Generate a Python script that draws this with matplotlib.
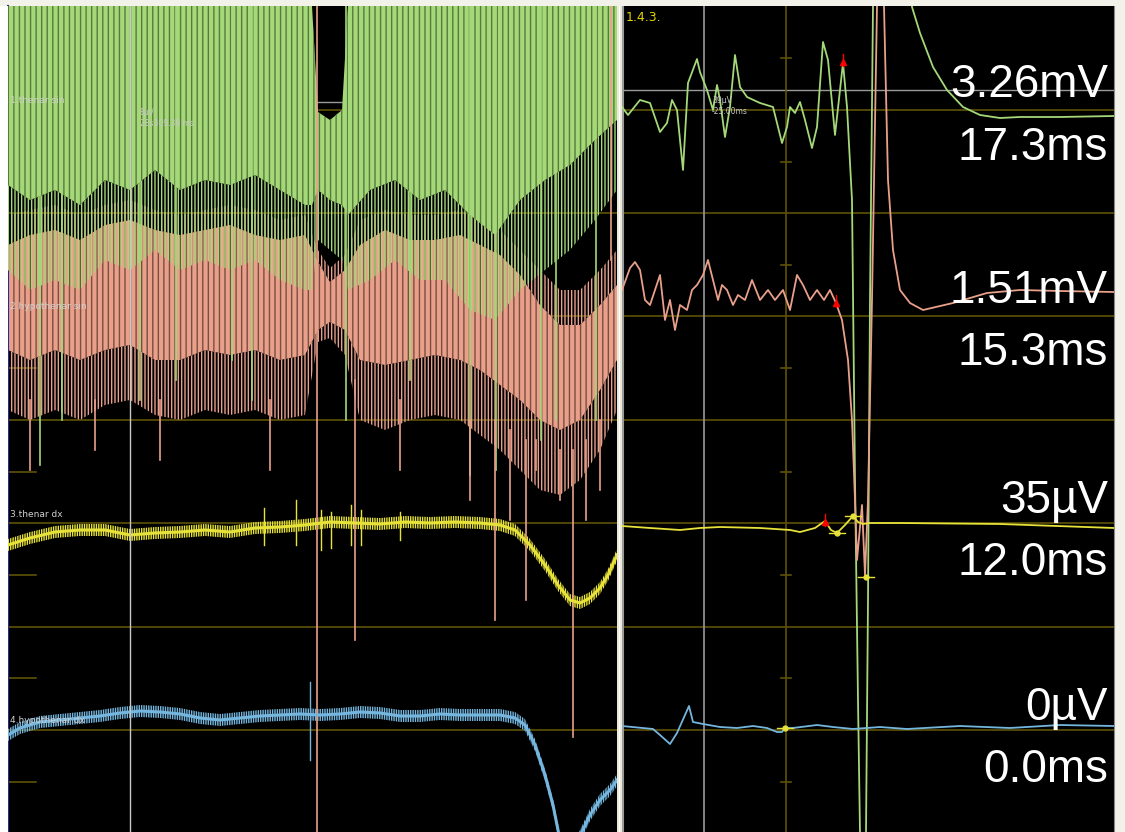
import matplotlib
matplotlib.use('Agg')
import matplotlib.pyplot as plt
from matplotlib.patches import Rectangle

W, H = 1125, 832

# trace colours
C_GREEN = '#a4d878'
C_GREEN_DK = '#587a3c'
C_SALMON = '#e9a08a'
C_SALMON_DK = '#7a4e40'
C_YELLOW = '#e6e23a'
C_BLUE = '#74b6de'
C_GRID = '#5e5208'
C_CURSOR = '#9a9a9a'

plt.rcParams['hatch.linewidth'] = 1.0

# screen rows of the scope grid (px from top)
grid_rows = [110, 213, 316, 420, 523, 627, 730]
tick_rows = [58, 162, 265, 368, 472, 575, 678, 782]

# ---- left panel: raw sweep, envelopes of each channel ----
g_x = [8, 30, 55, 80, 105, 130, 155, 180, 205, 230, 255, 280, 305, 312, 318, 330, 342, 348,
       370, 395, 420, 445, 470, 495, 520, 545, 570, 595, 617]
g_top = [6, 6, 6, 6, 6, 6, 6, 6, 6, 6, 6, 6, 6, 6, 112, 120, 110, 6,
         6, 6, 6, 6, 6, 6, 6, 6, 6, 6, 6]
g_core = [185, 200, 190, 205, 180, 190, 170, 190, 180, 185, 175, 190, 205, 205, 190, 200, 205, 215,
          190, 180, 200, 190, 215, 235, 200, 180, 165, 140, 120]
g_outer = [270, 290, 280, 290, 260, 270, 250, 270, 260, 270, 260, 280, 290, 290, 240, 250, 260, 290,
           280, 260, 280, 280, 310, 320, 290, 270, 250, 220, 190]
g_spikes = [(40, 6, 465), (62, 6, 420), (140, 6, 400), (176, 6, 380), (232, 6, 360), (252, 6, 400),
            (346, 6, 420), (410, 6, 380), (470, 6, 475), (496, 6, 470), (541, 6, 440), (556, 6, 420),
            (596, 6, 420)]

s_x = [8, 30, 55, 80, 105, 130, 155, 180, 205, 230, 255, 280, 305, 318, 330, 345, 360, 385,
       410, 435, 460, 480, 500, 520, 540, 560, 580, 600, 617]
s_up = [245, 235, 230, 240, 225, 220, 230, 235, 230, 225, 235, 240, 235, 262, 282, 270, 245, 230,
        240, 240, 235, 245, 255, 275, 305, 325, 325, 305, 285]
s_lo = [350, 360, 350, 360, 350, 345, 360, 360, 350, 355, 350, 360, 355, 330, 322, 330, 360, 365,
        360, 355, 360, 370, 385, 400, 420, 430, 420, 390, 360]
s_up_out = [215, 210, 205, 215, 205, 200, 210, 215, 210, 205, 210, 220, 215, 250, 268, 255, 220, 210,
            215, 215, 210, 220, 230, 250, 270, 290, 290, 270, 250]
s_lo_out = [410, 420, 410, 420, 405, 400, 415, 420, 410, 415, 410, 420, 415, 342, 338, 355, 420, 430,
            420, 415, 420, 435, 450, 470, 490, 495, 480, 450, 410]
s_spikes = [(30, 400, 470), (95, 400, 450), (160, 400, 460), (270, 400, 470), (317, 6, 832),
            (355, 380, 640), (400, 400, 470), (470, 420, 500), (495, 420, 620), (510, 430, 520),
            (526, 440, 600), (536, 440, 470), (560, 450, 500), (573, 450, 737), (586, 440, 520),
            (600, 420, 490), (611, 6, 260)]

y_x = [8, 30, 55, 80, 105, 130, 155, 180, 205, 230, 255, 280, 305, 330, 355, 380, 405, 430,
       455, 480, 500, 515, 530, 545, 558, 570, 580, 590, 600, 608, 617]
y_mid = [545, 538, 532, 530, 530, 535, 533, 532, 530, 532, 528, 527, 525, 522, 523, 524, 522, 523,
         522, 523, 525, 530, 545, 565, 585, 600, 603, 598, 588, 575, 555]
y_spikes = [(264, 508, 545), (296, 500, 545), (321, 510, 550), (331, 512, 548), (351, 505, 545),
            (361, 510, 545), (400, 512, 540)]

b_x = [8, 20, 40, 60, 80, 100, 120, 140, 160, 180, 200, 220, 240, 260, 280, 300, 320, 340,
       360, 380, 400, 420, 440, 460, 480, 500, 515, 525, 535, 545, 553, 560]
b_mid = [735, 728, 722, 720, 718, 716, 713, 711, 712, 714, 718, 720, 718, 716, 715, 714, 715, 714,
         712, 713, 716, 716, 714, 715, 715, 715, 718, 725, 745, 775, 805, 840]
b2_x = [578, 590, 600, 610, 617]
b2_mid = [840, 815, 800, 790, 780]
b_spikes = [(310, 682, 760)]

# ---- right panel: averaged responses ----
rg_x = [622, 628, 640, 650, 660, 667, 672, 677, 683, 688, 697, 700, 707, 713, 717, 720, 725, 730,
        735, 740, 747, 760, 773, 782, 787, 790, 795, 800, 805, 812, 817, 823, 828, 835, 843, 847,
        852, 855, 858, 861, 863, 866, 868, 870, 873, 880, 905, 912, 920, 933, 947, 963, 980, 1000,
        1020, 1060, 1114]
rg_y = [107, 115, 100, 103, 132, 123, 100, 110, 170, 83, 59, 72, 90, 110, 85, 100, 137, 107,
        55, 87, 97, 103, 107, 143, 127, 107, 113, 102, 120, 148, 127, 42, 60, 135, 63, 107,
        200, 480, 700, 900, 900, 832, 600, 300, 6, -80, -80, 7, 33, 67, 90, 107, 115, 118,
        117, 117, 116]

rs_x = [622, 630, 635, 640, 645, 650, 655, 660, 665, 670, 675, 680, 687, 692, 697, 703, 708, 713,
        718, 722, 727, 733, 738, 745, 752, 760, 768, 775, 783, 790, 797, 803, 810, 817, 824, 830,
        836, 842, 848, 852, 855, 857, 862, 865, 868, 872, 877, 880, 884, 888, 893, 900, 910, 923,
        953, 987, 1020, 1060, 1114]
rs_y = [290, 268, 262, 270, 300, 305, 290, 275, 320, 300, 330, 305, 310, 290, 285, 275, 260, 280,
        300, 285, 290, 305, 295, 300, 280, 300, 290, 300, 290, 310, 275, 285, 300, 290, 300, 290,
        303, 320, 360, 420, 500, 560, 505, 575, 500, 300, 6, -80, 6, 180, 250, 290, 303, 310,
        303, 293, 290, 291, 292]

ry_x = [622, 650, 680, 700, 720, 760, 790, 800, 815, 825, 831, 837, 845, 853, 858, 863, 870, 900,
        1000, 1114]
ry_y = [526, 528, 530, 528, 527, 528, 530, 532, 528, 521, 530, 533, 525, 516, 522, 524, 523, 523,
        524, 528]

rb_x = [622, 653, 660, 670, 677, 689, 693, 703, 720, 737, 753, 767, 777, 782, 785, 793, 817, 833,
        853, 880, 907, 960, 1010, 1060, 1114]
rb_y = [726, 729, 735, 744, 733, 706, 722, 724, 727, 728, 726, 728, 732, 732, 728, 728, 725, 727,
        729, 727, 729, 726, 728, 725, 726]

# latency / amplitude readouts per channel
amp_labels = ['3.26mV', '1.51mV', '35µV', '0µV']
lat_labels = ['17.3ms', '15.3ms', '12.0ms', '0.0ms']
amp_base = [97, 303, 513, 720]
lat_base = [160, 365, 575, 782]

peak_marks = [(843, 62), (836, 303), (825, 522)]
onset_marks = [(837, 533), (853, 516), (866, 577), (785, 728)]

channel_names = ['1.thenar sin', '2.hypothenar sin', '3.thenar dx', '4.hypothenar dx']
channel_name_y = [101, 307, 515, 721]

fig = plt.figure(figsize=(W / 100, H / 100), dpi=100, facecolor='#f2f1ea')
fig.patches.append(Rectangle((0, 0), 8 / W, 826 / H, transform=fig.transFigure,
                             facecolor='white', edgecolor='none'))
fig.patches.append(Rectangle((617 / W, 0), 5 / W, 826 / H, transform=fig.transFigure,
                             facecolor='#ece9d8', edgecolor='none'))
fig.patches.append(Rectangle((619 / W, 0), 1.5 / W, 826 / H, transform=fig.transFigure,
                             facecolor='white', edgecolor='none'))

axL = fig.add_axes([8 / W, 0, (617 - 8) / W, 826 / H])
axR = fig.add_axes([622 / W, 0, (1114 - 622) / W, 826 / H])
for ax, (x0, x1) in ((axL, (8, 617)), (axR, (622, 1114))):
    ax.set_facecolor('black')
    ax.set_xlim(x0, x1)
    ax.set_ylim(832, 6)
    ax.set_xticks([])
    ax.set_yticks([])
    for sp in ax.spines.values():
        sp.set_visible(False)
    for gy in grid_rows:
        ax.axhline(gy, color=C_GRID, lw=1.2, zorder=1)
axL.spines['left'].set_visible(True)
axL.spines['left'].set_color('#2a2a90')
axL.spines['left'].set_linewidth(1.5)
axR.spines['right'].set_visible(True)
axR.spines['right'].set_color('#8a8a8a')

# left panel cursors and scale ticks
axL.axhline(102, color=C_CURSOR, lw=1, zorder=1)
axL.axvline(130, color='#c8c8c8', lw=1, zorder=6)
for ty in tick_rows:
    axL.plot([8, 36], [ty, ty], color=C_GRID, lw=1.2, zorder=1)

# channel 2 (salmon): solid core with striped fringes, drawn behind channel 1
axL.fill_between(s_x, s_up_out, s_up, facecolor='none', edgecolor=C_SALMON, hatch='|||||', lw=0, zorder=2)
axL.fill_between(s_x, s_lo, s_lo_out, facecolor='none', edgecolor=C_SALMON, hatch='|||||', lw=0, zorder=2)
axL.fill_between(s_x, s_up, s_lo, facecolor=C_SALMON, edgecolor=C_SALMON_DK, hatch='|||', lw=0, zorder=2)

# channel 1 (green)
axL.fill_between(g_x, g_core, g_outer, facecolor='none', edgecolor=C_GREEN, hatch='|||||', lw=0, zorder=3)
axL.fill_between(g_x, g_top, g_core, facecolor=C_GREEN, edgecolor=C_GREEN_DK, hatch='|||', lw=0, zorder=3)
for x, y0, y1 in g_spikes:
    axL.plot([x, x], [y0, y1], color=C_GREEN, lw=1.2, zorder=4)
for x, y0, y1 in s_spikes:
    axL.plot([x, x], [y0, y1], color=C_SALMON, lw=1.2, zorder=4)

# channels 3 and 4: noisy baselines
axL.fill_between(y_x, [v - 6 for v in y_mid], [v + 6 for v in y_mid], facecolor='none',
                 edgecolor=C_YELLOW, hatch='|||||||', lw=0, zorder=3)
axL.plot(y_x, y_mid, color=C_YELLOW, lw=2.2, zorder=4)
for x, y0, y1 in y_spikes:
    axL.plot([x, x], [y0, y1], color=C_YELLOW, lw=1, zorder=4)

for bx, bm in ((b_x, b_mid), (b2_x, b2_mid)):
    axL.fill_between(bx, [v - 6 for v in bm], [v + 6 for v in bm], facecolor='none',
                     edgecolor=C_BLUE, hatch='|||||||', lw=0, zorder=3)
    axL.plot(bx, bm, color=C_BLUE, lw=2.2, zorder=4)
for x, y0, y1 in b_spikes:
    axL.plot([x, x], [y0, y1], color=C_BLUE, lw=1, zorder=4)

for name, ny in zip(channel_names, channel_name_y):
    axL.text(10, ny, name, color='#d0d0d0', fontsize=6.5, va='center', ha='left', zorder=7)
axL.text(140, 113, '8µV', color='#c8c8c8', fontsize=5.5, va='center', zorder=7)
axL.text(140, 124, '28s309.38 ms', color='#c8c8c8', fontsize=5.5, va='center', zorder=7)

# right panel cursors
axR.axhline(90, color=C_CURSOR, lw=1, zorder=1)
axR.axvline(623, color=C_CURSOR, lw=1.5, zorder=1)
axR.axvline(704, color=C_CURSOR, lw=1.2, zorder=1)
axR.axvline(786, color=C_GRID, lw=1.2, zorder=1)
for ty in tick_rows:
    axR.plot([781, 791], [ty, ty], color=C_GRID, lw=1.2, zorder=1)

axR.plot(rg_x, rg_y, color=C_GREEN, lw=1.3, zorder=4)
axR.plot(rs_x, rs_y, color=C_SALMON, lw=1.3, zorder=4)
axR.plot(ry_x, ry_y, color=C_YELLOW, lw=1.3, zorder=4)
axR.plot(rb_x, rb_y, color=C_BLUE, lw=1.3, zorder=4)

for px, py in peak_marks:
    axR.plot([px], [py], marker='^', color='red', ms=4, zorder=6)
    axR.plot([px, px], [py - 8, py + 4], color='red', lw=1, zorder=6)
for px, py in onset_marks:
    axR.plot([px - 8, px + 8], [py, py], color=C_YELLOW, lw=1, zorder=6)
    axR.plot([px], [py], marker='o', color=C_YELLOW, ms=3.5, zorder=6)

axR.text(626, 18, '1.4.3.', color='#e2d400', fontsize=9, va='center', ha='left')
axR.text(712, 101, '39µV', color='#c8c8c8', fontsize=5.5, va='center', zorder=7)
axR.text(712, 112, '-25.00ms', color='#c8c8c8', fontsize=5.5, va='center', zorder=7)

for lab, by in zip(amp_labels + lat_labels, amp_base + lat_base):
    axR.text(1108, by, lab, color='white', fontsize=33, family='Liberation Sans',
             ha='right', va='baseline', zorder=8)

fig.savefig('out.png', dpi=100, facecolor=fig.get_facecolor())
